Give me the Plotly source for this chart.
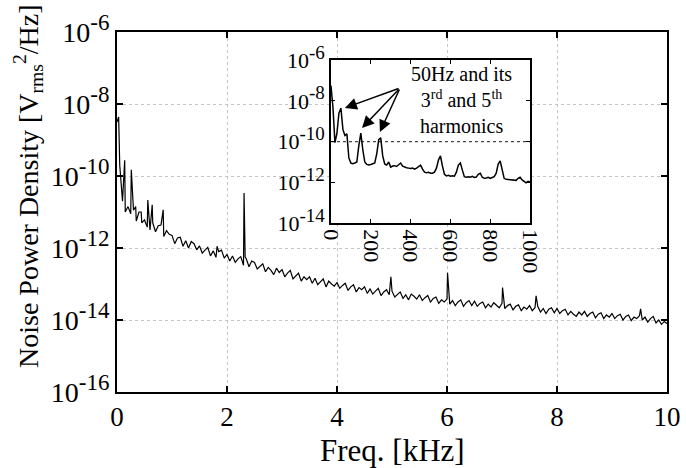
import numpy as np
import plotly.graph_objects as go

# ---------------- data ----------------
# main spectrum: frequency grid [kHz] and log10 of PSD [Vrms^2/Hz]
main_freq_khz = [round(0.05 * i, 2) for i in range(201)]
main_log = [
    -8.50, -9.70, -10.70, -11.00, -10.85, -11.05, -10.95, -11.25, -11.00, -11.30,
    -11.22, -11.42, -11.50, -11.30, -11.55, -11.38, -11.36, -11.68, -11.52, -11.62,
    -11.65, -11.88, -11.72, -11.70, -11.95, -11.80, -12.00, -11.82, -11.88, -12.05,
    -11.94, -12.14, -12.06, -11.98, -12.22, -12.08, -12.26, -12.10, -12.06, -12.28,
    -12.18, -12.36, -12.22, -12.40, -12.30, -12.24, -12.48, -12.30, -12.52, -12.36,
    -12.40, -12.58, -12.50, -12.44, -12.66, -12.54, -12.62, -12.74, -12.56, -12.68,
    -12.60, -12.80, -12.70, -12.62, -12.86, -12.78, -12.70, -12.92, -12.80, -12.88,
    -12.80, -12.98, -12.84, -13.02, -12.94, -12.86, -13.08, -12.92, -13.00, -13.06,
    -12.96, -13.12, -13.04, -12.98, -13.18, -13.08, -13.02, -13.22, -13.10, -13.16,
    -13.08, -13.26, -13.14, -13.28, -13.20, -13.12, -13.32, -13.22, -13.16, -13.30,
    -13.20, -13.36, -13.28, -13.22, -13.40, -13.30, -13.44, -13.28, -13.34, -13.42,
    -13.30, -13.46, -13.38, -13.32, -13.50, -13.40, -13.36, -13.54, -13.44, -13.50,
    -13.42, -13.56, -13.46, -13.60, -13.50, -13.44, -13.62, -13.52, -13.46, -13.60,
    -13.48, -13.62, -13.54, -13.50, -13.66, -13.56, -13.64, -13.52, -13.58, -13.66,
    -13.54, -13.68, -13.60, -13.56, -13.72, -13.62, -13.58, -13.74, -13.64, -13.70,
    -13.60, -13.74, -13.66, -13.62, -13.78, -13.68, -13.82, -13.70, -13.66, -13.80,
    -13.68, -13.82, -13.74, -13.70, -13.86, -13.76, -13.84, -13.90, -13.78, -13.86,
    -13.76, -13.90, -13.82, -13.78, -13.94, -13.84, -13.80, -13.96, -13.86, -13.92,
    -13.82, -13.96, -13.88, -13.84, -14.00, -13.90, -13.86, -14.02, -13.92, -13.96,
    -13.88, -14.00, -13.92, -14.06, -13.96, -13.90, -14.08, -14.00, -14.12, -14.04,
    -14.10,
]
# narrow spectral lines in the main spectrum
spike_freq_khz = [0.03, 0.14, 0.26, 0.34, 0.44, 0.56, 0.64, 0.84, 1.82, 2.31,
                  2.33, 4.98, 6.01, 7.01, 7.62, 9.52]
spike_log = [-8.36, -9.56, -9.83, -10.85, -11.00, -10.67, -10.80, -10.94, -11.95, -10.47,
             -12.25, -12.80, -12.69, -13.10, -13.33, -13.69]

# inset: 0-1000 Hz detail
inset_freq_hz = list(range(0, 1001, 10))
inset_log = [
    -7.25, -8.30, -10.05, -9.60, -8.60, -8.36, -9.40, -9.70, -9.62, -10.80,
    -11.05, -11.08, -11.05, -11.00, -10.20, -9.58, -10.40, -11.00, -11.12, -11.15,
    -11.12, -11.10, -11.05, -10.60, -9.90, -9.82, -10.70, -11.10, -11.15, -11.00,
    -11.25, -11.20, -11.18, -11.22, -11.12, -11.05, -11.20, -11.25, -11.28, -11.30,
    -11.32, -11.30, -11.35, -11.30, -11.20, -11.15, -11.35, -11.50, -11.52, -11.50,
    -11.55, -11.55, -11.50, -11.30, -10.90, -10.70, -11.20, -11.60, -11.68, -11.65,
    -11.70, -11.68, -11.70, -11.50, -11.15, -11.05, -11.40, -11.72, -11.75, -11.72,
    -11.75, -11.70, -11.76, -11.74, -11.60, -11.55, -11.75, -11.80, -11.78, -11.75,
    -11.80, -11.75, -11.72, -11.55, -11.10, -10.95, -11.45, -11.80, -11.85, -11.86,
    -11.88, -11.90, -11.88, -11.90, -11.80, -11.75, -11.88, -11.95, -12.02, -11.95,
    -11.98,
]

main_yticks_exp = [-16, -14, -12, -10, -8, -6]
main_xticks = [0, 2, 4, 6, 8, 10]
inset_yticks_exp = [-14, -12, -10, -8, -6]
inset_xticks = [0, 200, 400, 600, 800, 1000]

# ---------------- build ----------------
pts = sorted(list(zip(main_freq_khz, main_log)) + list(zip(spike_freq_khz, spike_log)))
mx = [p[0] for p in pts]
my = [10 ** p[1] for p in pts]

FONT = "Liberation Serif, Times New Roman, DejaVu Serif, serif"


def pow_label(e, exp_px):
    return f"10<sup><span style='font-size:{exp_px}px'>{e}</span></sup>"


fig = go.Figure()
fig.add_trace(go.Scatter(x=mx, y=my, mode="lines", line=dict(color="black", width=1.2),
                         xaxis="x", yaxis="y", showlegend=False))
fig.add_trace(go.Scatter(x=inset_freq_hz, y=[10 ** v for v in inset_log], mode="lines",
                         line=dict(color="black", width=1.5),
                         xaxis="x2", yaxis="y2", showlegend=False))

axis_common = dict(showline=True, linecolor="black", mirror="ticks", ticks="inside",
                   tickcolor="black", zeroline=False, automargin=False)

fig.update_layout(
    width=686, height=468,
    margin=dict(l=117, r=19, t=32, b=76, autoexpand=False),
    paper_bgcolor="white", plot_bgcolor="white",
    font=dict(family=FONT, color="black"),
    xaxis=dict(domain=[0, 1], range=[0, 10], tickvals=main_xticks,
               ticklen=6, tickwidth=1.5, linewidth=2,
               showgrid=True, gridcolor="#c4c4c4", griddash="dot", gridwidth=1,
               tickfont=dict(size=27, family=FONT),
               **axis_common),
    yaxis=dict(domain=[0, 1], type="log", range=[-16, -6],
               tickvals=[10.0 ** e for e in main_yticks_exp],
               ticktext=[pow_label(e, 23) for e in main_yticks_exp],
               ticklen=6, tickwidth=1.5, linewidth=2,
               showgrid=True, gridcolor="#c4c4c4", griddash="dot", gridwidth=1,
               tickfont=dict(size=28, family=FONT),
               **axis_common),
    xaxis2=dict(domain=[0.389, 0.751], anchor="y2", range=[0, 1000], tickvals=inset_xticks,
                tickangle=90, ticklen=4, tickwidth=1, linewidth=1.5, showgrid=False,
                tickfont=dict(size=22, family=FONT), **axis_common),
    yaxis2=dict(domain=[0.469, 0.922], anchor="x2", type="log", range=[-14, -6],
                tickvals=[10.0 ** e for e in inset_yticks_exp],
                ticktext=[pow_label(e, 19) for e in inset_yticks_exp],
                ticklen=4, tickwidth=1, linewidth=1.5, showgrid=False,
                tickfont=dict(size=22, family=FONT), **axis_common),
)

# dotted reference line in inset at 1e-10
fig.add_shape(type="line", xref="x2", yref="y2", x0=0, x1=1000, y0=1e-10, y1=1e-10,
              line=dict(color="#444444", width=1.2, dash="dot"), layer="below")

# axis titles as annotations
fig.add_annotation(text="Noise Power Density [V<sub>rms</sub><sup>2</sup>/Hz]",
                   xref="paper", yref="paper", x=-0.162, y=0.572, textangle=-90,
                   showarrow=False, xanchor="center", yanchor="middle",
                   font=dict(size=28, family=FONT, color="black"))
fig.add_annotation(text="Freq. [kHz]", xref="paper", yref="paper", x=0.5, y=-0.162,
                   showarrow=False, xanchor="center", yanchor="middle",
                   font=dict(size=31, family=FONT, color="black"))

# inset annotation
fig.add_annotation(text="50Hz and its<br>3<sup>rd</sup> and 5<sup>th</sup><br>harmonics",
                   xref="x2", yref="y2", x=658, y=-7.95, showarrow=False,
                   font=dict(size=20, family=FONT, color="black"))
heads = [(70, -8.35), (156, -9.33), (246, -9.53)]
for hx, hy in heads:
    fig.add_annotation(text="", xref="x2", yref="y2", x=hx, y=hy,
                       axref="x2", ayref="y2", ax=347, ay=-7.37,
                       showarrow=True, arrowhead=2, arrowsize=1.6, arrowwidth=1.5,
                       arrowcolor="black", standoff=0, startstandoff=0)

fig.write_html("out.html", config={"displayModeBar": False},
               post_script="document.body.style.margin='0';document.body.style.overflow='hidden';")
